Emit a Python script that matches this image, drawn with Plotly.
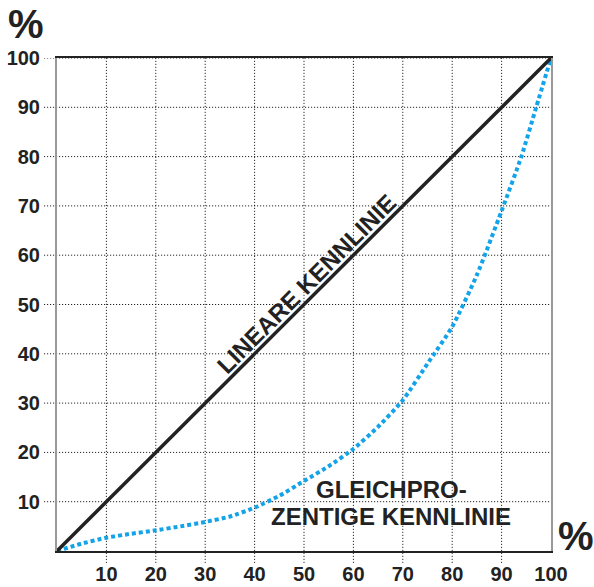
import plotly.graph_objects as go

# Data
linear_x = [0, 100]
linear_y = [0, 100]
eqp_x = [0, 5, 10, 15, 20, 25, 30, 35, 40, 45, 50, 55, 60, 65, 70, 75, 80, 85, 90, 94, 97, 100]
eqp_y = [0, 1.5, 2.7, 3.5, 4.2, 5.0, 5.9, 7.0, 8.8, 11.2, 14.2, 17.2, 20.7, 25.2, 30.6, 38.0, 45.5, 56.0, 69.0, 80.0, 90.0, 100.0]
tick_vals = [10, 20, 30, 40, 50, 60, 70, 80, 90, 100]
tick_text = ["10", "20", "30", "40", "50", "60", "70", "80", "90", "100"]

FONT = "Liberation Sans"
TXT = "#222222"

fig = go.Figure()
fig.add_trace(go.Scatter(x=eqp_x, y=eqp_y, mode="lines", line=dict(color="#12a3e8", width=4, dash="4px,3px", shape="spline", smoothing=0.6), hoverinfo="skip"))
fig.add_trace(go.Scatter(x=linear_x, y=linear_y, mode="lines", line=dict(color="#222222", width=3.5), hoverinfo="skip"))

shapes = []
for v in tick_vals[:-1]:
    shapes.append(dict(type="line", xref="x", yref="paper", x0=v, x1=v, y0=-0.024, y1=1,
                       line=dict(color="black", width=1, dash="1px,2px"), layer="below"))
for v in tick_vals:
    shapes.append(dict(type="line", xref="paper", yref="y", x0=-0.026, x1=1, y0=v, y1=v,
                       line=dict(color="black", width=1, dash="1px,2px"), layer="below"))

def ann(text, x, y, ref, size, angle=0):
    return dict(text="<b>%s</b>" % text, x=x, y=y, xref=ref[0], yref=ref[1], showarrow=False,
                textangle=angle, xanchor="center", yanchor="middle",
                font=dict(family=FONT, size=size, color=TXT))

annotations = [
    ann("LINEARE KENNLINIE", 50.6, 54.2, ("x", "y"), 24, -45),
    ann("GLEICHPRO-", 67.7, 12.4, ("x", "y"), 24),
    ann("ZENTIGE KENNLINIE", 67.6, 7.1, ("x", "y"), 24),
    ann("%", -0.063, 1.068, ("paper", "paper"), 40),
    ann("%", 1.0506, 0.0304, ("paper", "paper"), 40),
]

tick_text_b = ["<b>%s</b>" % t for t in tick_text]

fig.update_layout(
    width=594, height=587,
    margin=dict(l=57, r=43, t=58, b=36, autoexpand=False),
    paper_bgcolor="white", plot_bgcolor="white",
    showlegend=False,
    shapes=shapes,
    annotations=annotations,
    xaxis=dict(range=[0, 100], tickvals=tick_vals, ticktext=tick_text_b, showgrid=False, zeroline=False,
               showline=True, linecolor="#222222", linewidth=2, mirror=True, automargin=False,
               ticks="outside", ticklen=4, tickcolor="rgba(0,0,0,0)",
               tickfont=dict(family=FONT, size=20, color=TXT)),
    yaxis=dict(range=[0, 100], tickvals=tick_vals, ticktext=tick_text_b, showgrid=False, zeroline=False,
               showline=True, linecolor="#999999", linewidth=2, mirror=True, automargin=False,
               ticks="outside", ticklen=11, tickcolor="rgba(0,0,0,0)",
               tickfont=dict(family=FONT, size=20, color=TXT)),
)

fig.write_html("out.html", config={"displayModeBar": False},
               post_script="document.body.style.margin='0px';")
